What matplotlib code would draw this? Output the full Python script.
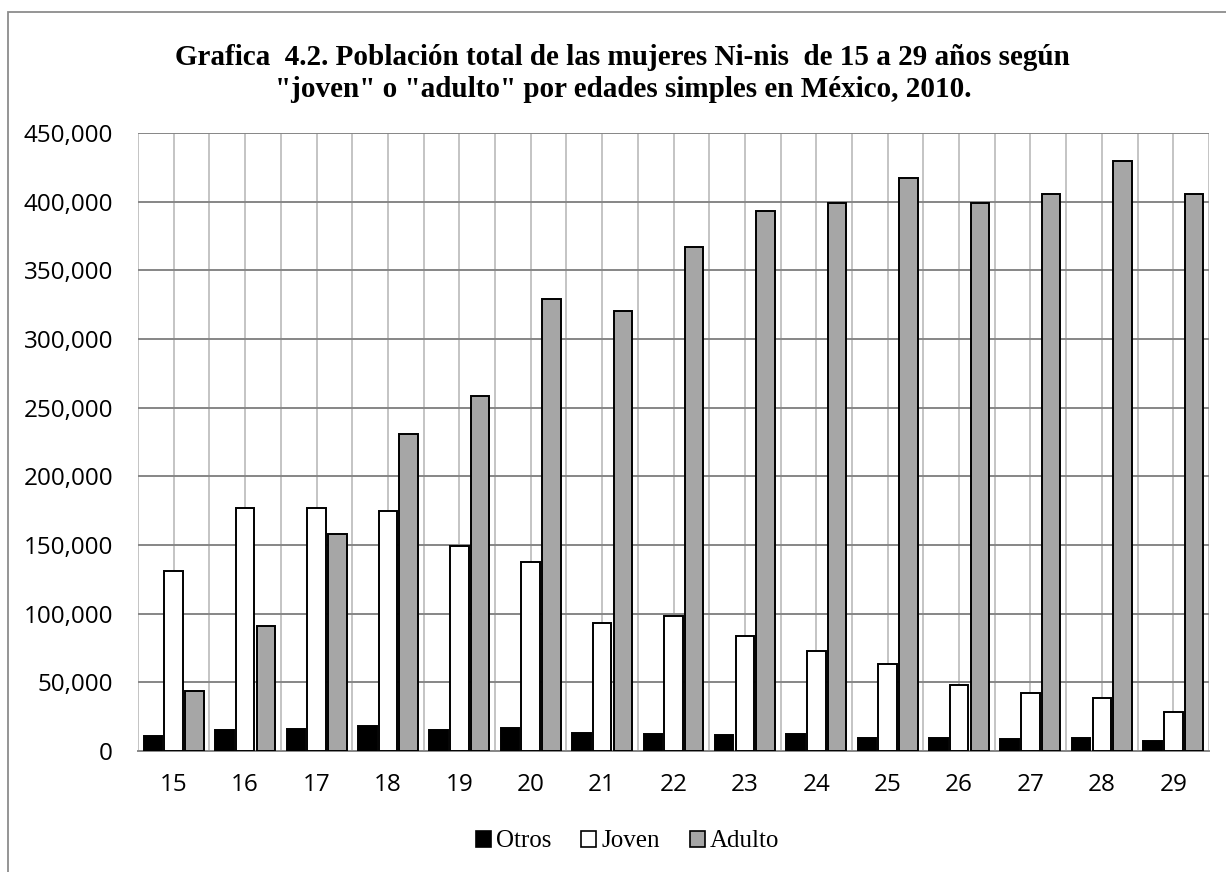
import numpy as np
import matplotlib.pyplot as plt
from matplotlib.patches import Rectangle, Patch
from matplotlib.ticker import FuncFormatter, FixedLocator

# Ni-nis women by single age, Mexico 2010
edades = [15, 16, 17, 18, 19, 20, 21, 22, 23, 24, 25, 26, 27, 28, 29]
otros = [10900, 15100, 15800, 17700, 15300, 16300, 12600, 12100, 11700, 11900,
         9200, 9000, 8300, 9000, 7300]
joven = [131000, 177000, 177000, 174400, 149400, 137300, 92800, 98400, 83600, 72400,
         63400, 47600, 42300, 38400, 27900]
adulto = [43500, 90900, 158200, 230600, 258700, 329200, 320000, 367300, 393500, 398900,
          417400, 399200, 405200, 429600, 405200]

series = [("Otros", otros, "black"), ("Joven", joven, "white"), ("Adulto", adulto, "#a6a6a6")]

fig = plt.figure(figsize=(12.26, 8.72), dpi=100)
ax = fig.add_axes([0.1126, 0.139, 0.8735, 0.7085])

x = np.arange(len(edades))
step = 0.29
width = 0.26
for i, (name, vals, color) in enumerate(series):
    ax.bar(x + (i - 1) * step, vals, width, color=color, edgecolor="black",
           linewidth=1.4, label=name, zorder=3)

ax.set_xlim(-0.5, len(edades) - 0.5)
ax.set_ylim(0, 450000)
ax.set_yticks(np.arange(0, 450001, 50000))
ax.yaxis.set_major_formatter(FuncFormatter(lambda v, p: f"{v:,.0f}"))
ax.set_xticks(x)
ax.set_xticklabels([str(e) for e in edades])
ax.xaxis.set_minor_locator(FixedLocator(np.arange(-0.5, len(edades), 1.0)))

# gridlines: darker horizontals, light verticals at centers and boundaries
ax.set_axisbelow(True)
ax.grid(axis="y", color="#868686", linewidth=1.4)
ax.grid(axis="x", which="both", color="#bfbfbf", linewidth=1.3)

for side in ["top", "right", "left"]:
    ax.spines[side].set_visible(False)
ax.spines["bottom"].set_color("#868686")
ax.spines["bottom"].set_linewidth(1.4)

ax.tick_params(axis="both", which="both", length=0)
ax.tick_params(axis="y", pad=18)
ax.tick_params(axis="x", pad=16)
for lab in ax.get_xticklabels() + ax.get_yticklabels():
    lab.set_fontfamily("Open Sans")
    lab.set_fontsize(17.5)

# titulo
fig.text(0.508, 0.934, 'Grafica  4.2. Población total de las mujeres Ni-nis  de 15 a 29 años según',
         ha="center", va="center", family="Liberation Serif", weight="bold", fontsize=21)
fig.text(0.508, 0.897, '"joven" o "adulto" por edades simples en México, 2010.',
         ha="center", va="center", family="Liberation Serif", weight="bold", fontsize=21)

# leyenda
handles = [Patch(facecolor=c, edgecolor="black", linewidth=1.2, label=n) for n, v, c in series]
fig.legend(handles=handles, loc="center", bbox_to_anchor=(0.512, 0.035), ncol=3,
           frameon=False, handlelength=0.6, handleheight=0.6, handletextpad=0.2,
           columnspacing=1.2, prop={"family": "Liberation Serif", "size": 18})

# chart border
fig.patches.append(Rectangle((8 / 1226, -0.05), 1.2, 1.05 - 12 / 872, transform=fig.transFigure,
                             fill=False, edgecolor="#8c8c8c", linewidth=1.3))

fig.savefig("out.png", dpi=100)
